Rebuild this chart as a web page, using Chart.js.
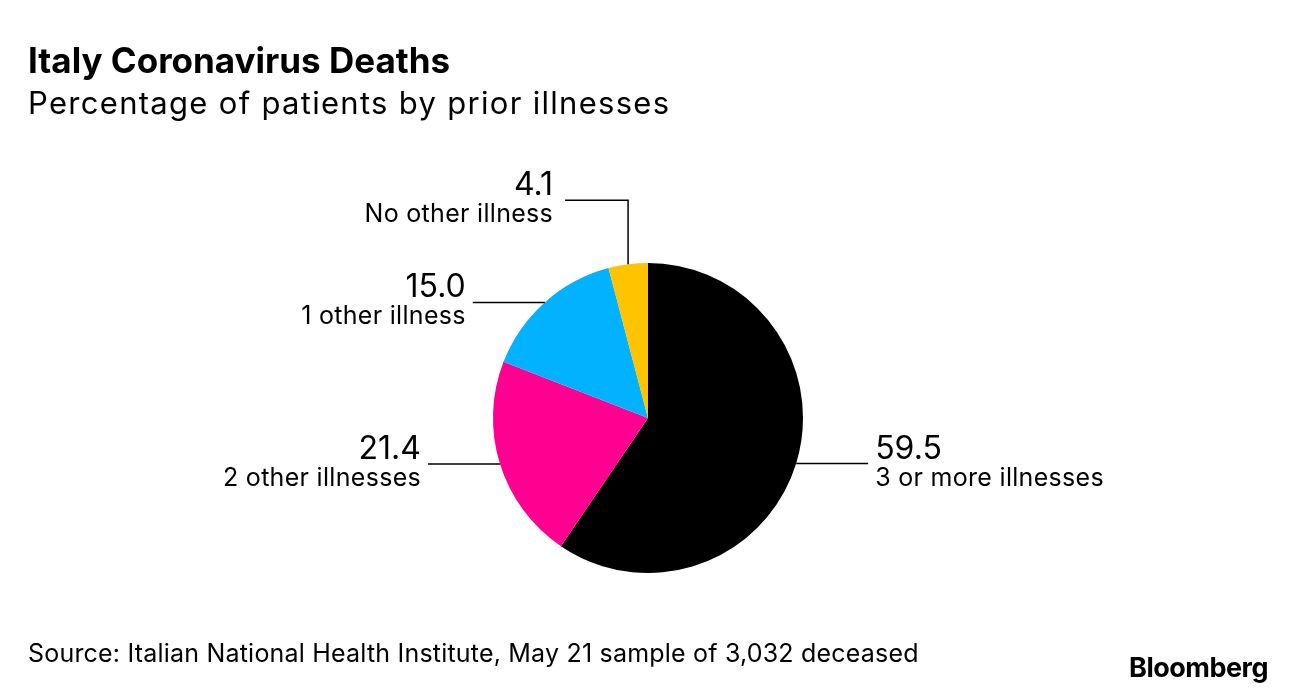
<!DOCTYPE html>
<html lang="en">

<head>
  <meta charset="UTF-8" />
  <title>Italy Coronavirus Deaths</title>
  <script src="https://cdn.jsdelivr.net/npm/chart.js"></script>
  <style>
    html, body { margin: 0; padding: 0; background: #fff; }
    #wrap { position: relative; width: 1296px; height: 692px; }
  </style>
</head>

<body>
  <div id="wrap">
    <canvas id="pieChart" width="1296" height="692"></canvas>
  </div>

  <script>
    // Data (percent of deceased patients)
    const categories = ['3 or more illnesses', '2 other illnesses', '1 other illness', 'No other illness'];
    const values = [59.5, 21.4, 15.0, 4.1];
    const valueLabels = ['59.5', '21.4', '15.0', '4.1'];
    const sliceColors = ['#000000', '#ff0090', '#00b2ff', '#ffc300'];

    const FONT = 'Inter, "Liberation Sans", Arial, sans-serif';

    // Titles, source and logo drawn straight on the canvas
    const headerPlugin = {
      id: 'header',
      afterDraw(chart) {
        const ctx = chart.ctx;
        ctx.save();
        ctx.fillStyle = '#000';
        ctx.textAlign = 'left';
        ctx.textBaseline = 'alphabetic';

        ctx.font = 'bold 35px ' + FONT;
        ctx.letterSpacing = '0px';
        ctx.fillText('Italy Coronavirus Deaths', 28, 73);

        ctx.font = '31px ' + FONT;
        ctx.letterSpacing = '1.3px';
        ctx.fillText('Percentage of patients by prior illnesses', 28, 114);

        ctx.font = '25px ' + FONT;
        ctx.letterSpacing = '0.2px';
        ctx.fillText('Source: Italian National Health Institute, May 21 sample of 3,032 deceased', 28, 662);

        ctx.font = 'bold 27px ' + FONT;
        ctx.letterSpacing = '-0.5px';
        ctx.textAlign = 'right';
        ctx.fillText('Bloomberg', 1268, 677);
        ctx.restore();
      }
    };

    // Leader lines + value / category labels, anchored at each slice's middle
    const leaderPlugin = {
      id: 'leaders',
      afterDatasetsDraw(chart) {
        const ctx = chart.ctx;
        const arcs = chart.getDatasetMeta(0).data;
        ctx.save();
        ctx.strokeStyle = '#000';
        ctx.lineWidth = 1.5;
        ctx.fillStyle = '#000';
        arcs.forEach((arc, i) => {
          const p = arc.getProps(['x', 'y', 'startAngle', 'endAngle', 'outerRadius'], true);
          const mid = (p.startAngle + p.endAngle) / 2;
          const ax = p.x + Math.cos(mid) * p.outerRadius;
          const ay = p.y + Math.sin(mid) * p.outerRadius;
          const dir = Math.cos(mid) >= 0 ? 1 : -1;
          let lineY, textX;

          ctx.beginPath();
          ctx.moveTo(ax, ay);
          if (Math.sin(mid) < -0.95) {
            // near the top: go up then sideways
            lineY = ay - 64;
            ctx.lineTo(ax, lineY);
            ctx.lineTo(ax + dir * 63, lineY);
            textX = ax + dir * 75;
          } else {
            lineY = ay;
            ctx.lineTo(ax + dir * 72, lineY);
            textX = ax + dir * 79;
          }
          ctx.stroke();

          ctx.textAlign = dir > 0 ? 'left' : 'right';
          ctx.textBaseline = 'alphabetic';
          ctx.font = '32px ' + FONT;
          ctx.letterSpacing = '0px';
          ctx.fillText(valueLabels[i], textX, lineY - 5);
          ctx.font = '25px ' + FONT;
          ctx.letterSpacing = '0.3px';
          ctx.fillText(categories[i], textX, lineY + 22);
        });
        ctx.restore();
      }
    };

    new Chart(document.getElementById('pieChart'), {
      type: 'pie',
      data: {
        labels: categories,
        datasets: [{
          data: values,
          backgroundColor: sliceColors,
          borderWidth: 0
        }]
      },
      options: {
        responsive: false,
        animation: false,
        layout: { padding: { top: 263, bottom: 119, left: 0, right: 0 } },
        plugins: {
          legend: { display: false },
          tooltip: { enabled: false }
        }
      },
      plugins: [leaderPlugin, headerPlugin]
    });
  </script>

</body>

</html>
